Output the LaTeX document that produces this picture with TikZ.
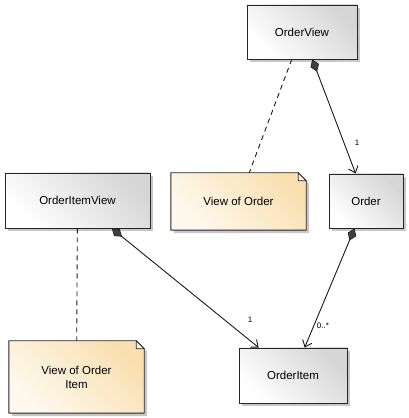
\documentclass[tikz,border=0pt]{standalone}
\usepackage{fontspec}
\setmainfont{Liberation Sans}
\usetikzlibrary{arrows.meta,shadows,backgrounds}
\definecolor{notetop}{HTML}{FEF9EE}
\definecolor{notebot}{HTML}{F9DFB0}
\definecolor{boxbot}{HTML}{D6D6D6}
\tikzset{
  umlbox/.style={draw=black!85, line width=0.9pt, inner sep=2pt, align=center,
    left color=white, right color=boxbot, shading angle=135,
    drop shadow={shadow xshift=3pt, shadow yshift=-3pt, opacity=0.22, fill=black},
    font=\fontsize{11.5}{13}\selectfont},
  notetext/.style={inner sep=2pt, align=center, font=\fontsize{11.5}{14}\selectfont},
  notepath/.style={draw=black!85, line width=0.9pt, line join=round,
    left color=notetop, right color=notebot, shading angle=135,
    drop shadow={shadow xshift=3pt, shadow yshift=-3pt, opacity=0.22, fill=black}},
  foldpath/.style={draw=black!85, line width=0.7pt, fill=notetop},
  comp/.style={draw=black!90, line width=0.9pt,
    {Diamond[length=13pt,width=9pt,fill=black!75,line width=0.6pt]}-{Straight Barb[length=6pt,width=10pt,line width=0.9pt]}},
  notelink/.style={draw=black!90, line width=0.9pt, dashed, dash pattern=on 5pt off 4pt},
  mult/.style={font=\fontsize{8}{9}\selectfont, inner sep=1pt}
}
\begin{document}
\begin{tikzpicture}[x=1pt,y=1pt]
\useasboundingbox (0,0) rectangle (409,418);
% class boxes
\node[umlbox, minimum width=110pt, minimum height=54pt] (ov) at (302,386) {OrderView};
\node[umlbox, minimum width=74pt, minimum height=54pt] (ord) at (366,217) {Order};
\node[umlbox, minimum width=145pt, minimum height=55pt] (oiv) at (77.5,217.5) {OrderItemView};
\node[umlbox, minimum width=108pt, minimum height=55pt] (oi) at (293,42.5) {OrderItem};
% notes
\node[notetext, minimum width=135pt, minimum height=57pt] (vo) at (238.5,216.5) {View of Order};
\node[notetext, minimum width=135pt, minimum height=72pt] (voi) at (76.5,41) {View of Order\\Item};
\begin{scope}[on background layer]
  \foreach \n in {vo,voi}{
    \path[notepath] (\n.south west) -- (\n.north west) -- ([xshift=-8pt]\n.north east)
      -- ([yshift=-8pt]\n.north east) -- (\n.south east) -- cycle;
    \path[foldpath] ([xshift=-8pt]\n.north east) -- ([xshift=-8pt,yshift=-8pt]\n.north east)
      -- ([yshift=-8pt]\n.north east) -- cycle;
  }
\end{scope}
% connectors
\draw[comp] (ov) -- (ord);
\draw[comp] (oiv) -- (oi);
\draw[comp] (ord) -- (oi);
\draw[notelink] (ov) -- (vo);
\draw[notelink] (oiv) -- (voi);
% multiplicities
\node[mult] (m1) at (357,275) {1};
\node[mult] (m2) at (250,98) {1};
\node[mult] (m3) at (323,92) {0..*};
\end{tikzpicture}
\end{document}
